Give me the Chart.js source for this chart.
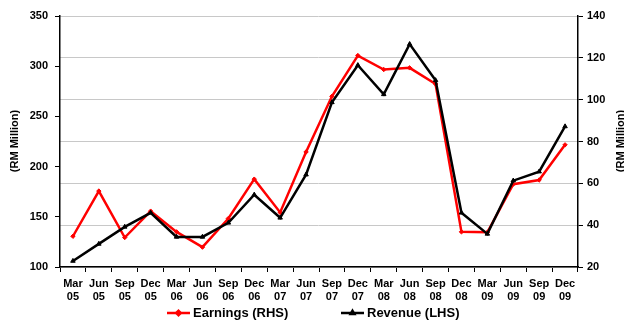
<!DOCTYPE html>
<html>
<head>
<meta charset="utf-8">
<script src="https://cdn.jsdelivr.net/npm/chart.js@4"></script>
<style>
  html, body { margin: 0; padding: 0; background: #fff; }
  #wrap { width: 624px; height: 323px; position: relative; }
</style>
</head>
<body>
<div id="wrap"><canvas id="chart"></canvas></div>
<script>
const quarters = [
  ['Mar', '05'], ['Jun', '05'], ['Sep', '05'], ['Dec', '05'],
  ['Mar', '06'], ['Jun', '06'], ['Sep', '06'], ['Dec', '06'],
  ['Mar', '07'], ['Jun', '07'], ['Sep', '07'], ['Dec', '07'],
  ['Mar', '08'], ['Jun', '08'], ['Sep', '08'], ['Dec', '08'],
  ['Mar', '09'], ['Jun', '09'], ['Sep', '09'], ['Dec', '09']
];
// RM million
const revenue = [106, 123, 140, 154, 130, 130, 144, 172, 149, 192, 264, 301, 272, 322, 286, 154, 133, 186, 195, 240];
const earnings = [34.7, 56.3, 34.1, 46.7, 36.8, 29.5, 43.2, 62, 46.1, 75, 101.6, 121.1, 114.4, 115.2, 107.5, 36.8, 36.6, 59.6, 61.6, 78.4];
const leftTicks = [100, 350, 50];
const rightTicks = [20, 140, 20];

const FONT = 'Liberation Sans, Arial, sans-serif';

const extras = {
  id: 'extras',
  afterDraw(c) {
    const { ctx } = c;
    ctx.save();
    ctx.font = 'bold 11px ' + FONT;
    ctx.fillStyle = '#000';
    ctx.textAlign = 'center';
    ctx.textBaseline = 'middle';
    // axis titles, both read bottom-to-top
    [15, 621].forEach((x) => {
      ctx.save();
      ctx.translate(x, 141);
      ctx.rotate(-Math.PI / 2);
      ctx.fillText('(RM Million)', 0, 0);
      ctx.restore();
    });

    // legend
    const items = [
      { text: 'Earnings (RHS)', color: '#ff0000', style: 'rectRot', x: 167 },
      { text: 'Revenue (LHS)', color: '#000000', style: 'triangle', x: 341 }
    ];
    const ly = 313;
    ctx.font = 'bold 13px ' + FONT;
    ctx.textAlign = 'left';
    items.forEach((it) => {
      ctx.strokeStyle = it.color;
      ctx.lineWidth = 2.5;
      ctx.beginPath();
      ctx.moveTo(it.x, ly);
      ctx.lineTo(it.x + 23, ly);
      ctx.stroke();
      ctx.fillStyle = it.color;
      Chart.helpers.drawPoint(ctx, { pointStyle: it.style, radius: 2.2, borderWidth: 1 }, it.x + 11.5, ly);
      ctx.fill();
      ctx.fillStyle = '#000';
      ctx.fillText(it.text, it.x + 26, ly);
    });
    ctx.restore();
  }
};

new Chart(document.getElementById('chart'), {
  type: 'line',
  data: {
    labels: quarters,
    datasets: [
      {
        label: 'Earnings (RHS)',
        data: earnings,
        yAxisID: 'y1',
        borderColor: '#ff0000',
        backgroundColor: '#ff0000',
        borderWidth: 2.5,
        pointStyle: 'rectRot',
        pointRadius: 2.2,
        pointBorderWidth: 1,
        tension: 0,
        order: 2
      },
      {
        label: 'Revenue (LHS)',
        data: revenue,
        yAxisID: 'y',
        borderColor: '#000000',
        backgroundColor: '#000000',
        borderWidth: 2.5,
        pointStyle: 'triangle',
        pointRadius: 2.6,
        pointBorderWidth: 1,
        tension: 0,
        order: 1
      }
    ]
  },
  options: {
    responsive: true,
    maintainAspectRatio: false,
    animation: false,
    layout: { padding: { top: 16, left: 0, right: 0, bottom: 0 } },
    plugins: { legend: { display: false }, tooltip: { enabled: false } },
    scales: {
      x: {
        offset: true,
        grid: { offset: true, drawOnChartArea: false, drawTicks: true, tickLength: 5, color: '#000', lineWidth: 1 },
        border: { color: '#000', width: 1.5 },
        ticks: { color: '#000', font: { family: FONT, size: 11, weight: 'bold' }, maxRotation: 0, autoSkip: false, padding: 5 },
        afterFit(s) { s.height = 56; }
      },
      y: {
        position: 'left',
        min: leftTicks[0], max: leftTicks[1],
        ticks: { stepSize: leftTicks[2], color: '#000', font: { family: FONT, size: 11, weight: 'bold' }, padding: 7 },
        grid: { drawOnChartArea: false, drawTicks: true, tickLength: 5, color: '#000' },
        border: { color: '#000', width: 1.5 },
        afterFit(s) { s.width = 60; }
      },
      y1: {
        position: 'right',
        min: rightTicks[0], max: rightTicks[1],
        ticks: { stepSize: rightTicks[2], color: '#000', font: { family: FONT, size: 11, weight: 'bold' }, padding: 4 },
        grid: { drawOnChartArea: true, drawTicks: true, tickLength: 5, color: '#c8c8c8', tickColor: '#000' },
        border: { color: '#000', width: 1.5 },
        afterFit(s) { s.width = 46; }
      }
    }
  },
  plugins: [extras]
});
</script>
</body>
</html>
